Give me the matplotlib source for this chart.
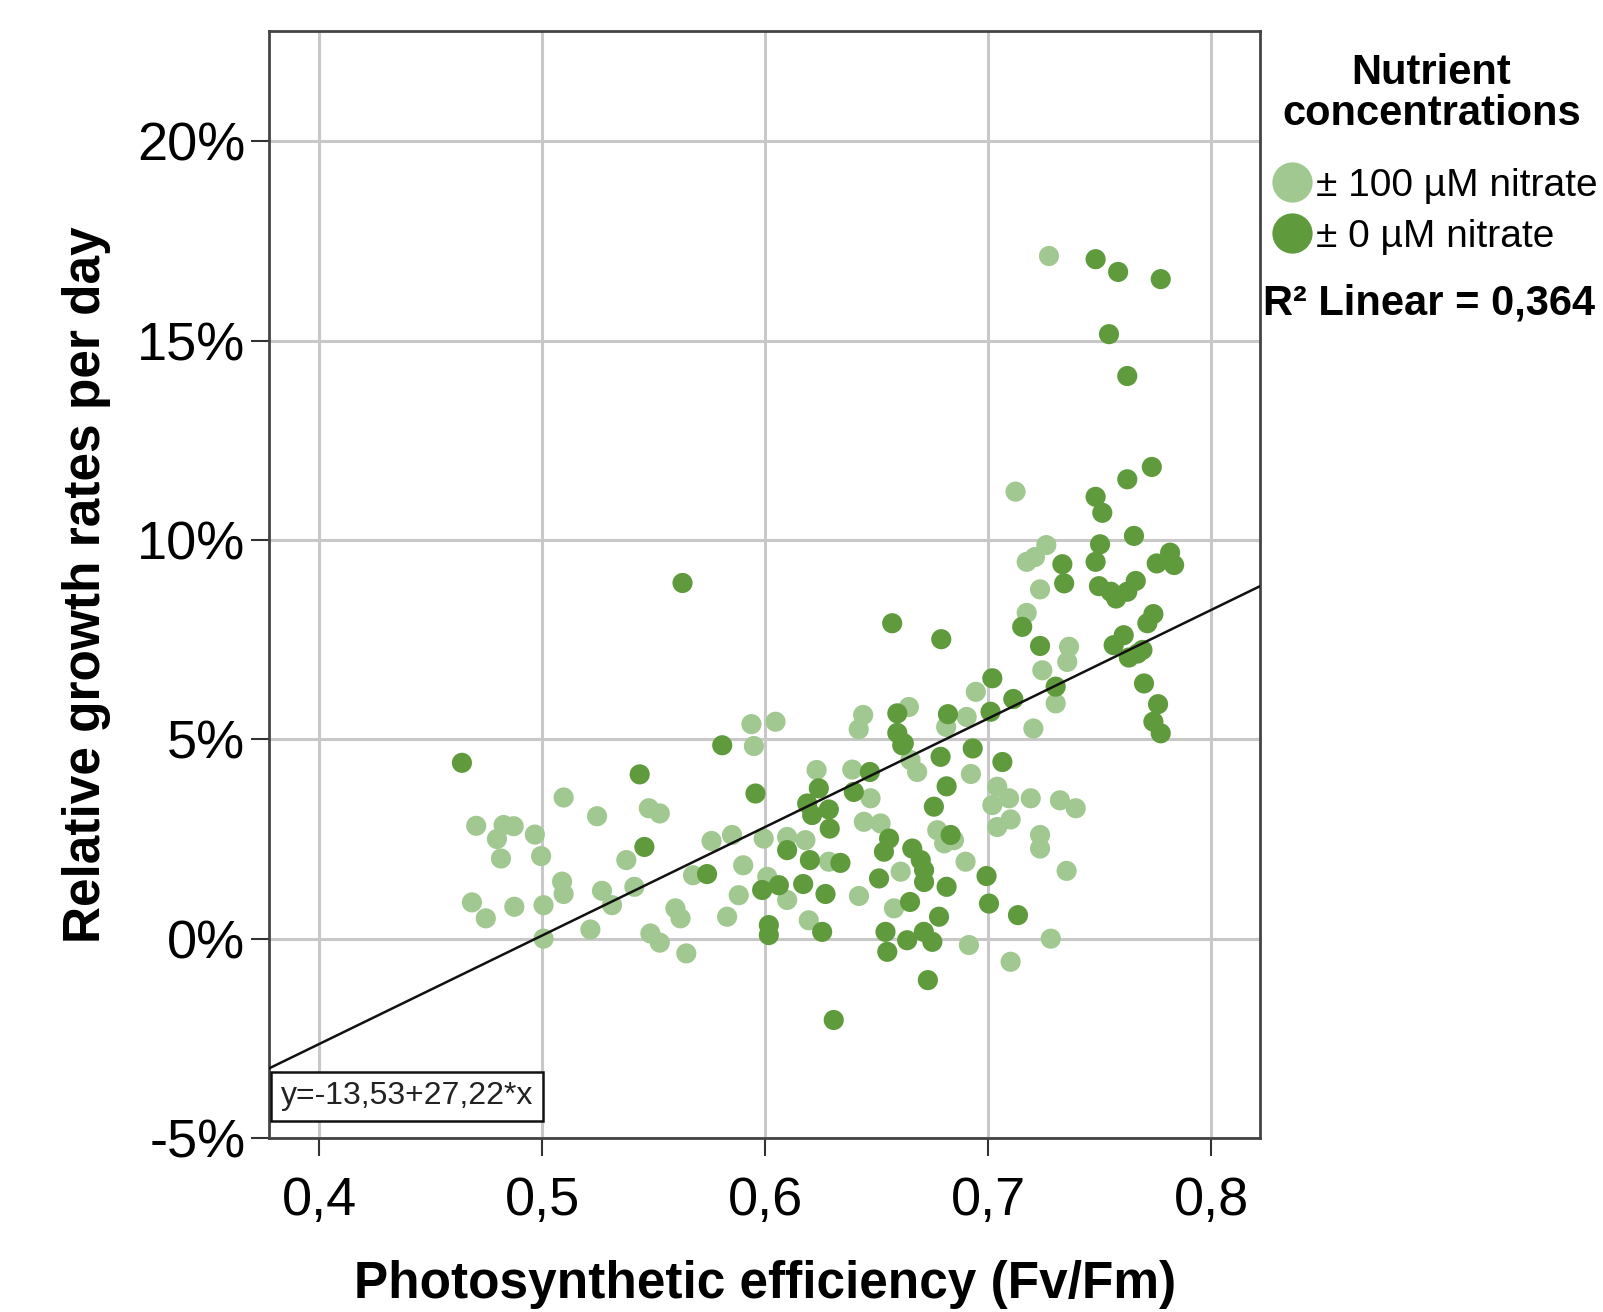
import matplotlib
matplotlib.use("Agg")
import matplotlib.pyplot as plt
from matplotlib.lines import Line2D

# photosynthetic efficiency (Fv/Fm) vs growth rate (% per day)
light_x = [0.7272, 0.7122, 0.7260, 0.7172, 0.7209, 0.7232, 0.7172, 0.7362, 0.7354, 0.6944,
           0.7242, 0.7302, 0.6903, 0.7202, 0.6922, 0.7040, 0.7093, 0.7018, 0.7100, 0.7040,
           0.7190, 0.7321, 0.7392, 0.7232, 0.7232, 0.7351, 0.6898, 0.7280, 0.6913, 0.7100,
           0.5949, 0.6230, 0.6390, 0.6472, 0.6442, 0.6517, 0.6651, 0.6681, 0.6771, 0.6802,
           0.6846, 0.6607, 0.6577, 0.6098, 0.6180, 0.5993, 0.5851, 0.6285, 0.5901, 0.6009,
           0.6098, 0.6420, 0.5881, 0.5829, 0.6195, 0.5096, 0.5246, 0.5478, 0.5527, 0.4704,
           0.4827, 0.4872, 0.4797, 0.4967, 0.4815, 0.4995, 0.5377, 0.5759, 0.5676, 0.5089,
           0.5096, 0.5268, 0.5313, 0.5413, 0.4685, 0.4747, 0.4875, 0.5006, 0.5006, 0.5216,
           0.5597, 0.5620, 0.5485, 0.5527, 0.5646, 0.5938, 0.6046, 0.6439, 0.6419, 0.6644,
           0.6811]
light_y = [17.12, 11.21, 9.87, 9.45, 9.57, 8.76, 8.17, 7.32, 6.94, 6.19,
           6.73, 5.90, 5.56, 5.27, 4.13, 3.81, 3.52, 3.35, 2.99, 2.80,
           3.52, 3.47, 3.27, 2.60, 2.26, 1.70, 1.93, 0.00, -0.16, -0.58,
           4.83, 4.23, 4.24, 3.52, 2.93, 2.89, 4.48, 4.18, 2.72, 2.39,
           2.47, 1.68, 0.76, 2.55, 2.47, 2.51, 2.60, 1.93, 1.84, 1.55,
           0.97, 1.07, 1.09, 0.55, 0.46, 3.54, 3.07, 3.27, 3.14, 2.83,
           2.85, 2.82, 2.50, 2.61, 2.01, 2.07, 1.97, 2.45, 1.59, 1.43,
           1.12, 1.20, 0.84, 1.30, 0.91, 0.51, 0.80, 0.84, 0.00, 0.23,
           0.76, 0.51, 0.13, -0.10, -0.37, 5.38, 5.44, 5.61, 5.25, 5.81,
           5.31]

dark_x = [0.7481, 0.7582, 0.7773, 0.7541, 0.7623, 0.7733, 0.7623, 0.7481, 0.7511, 0.7653,
          0.7501, 0.7332, 0.7481, 0.7815, 0.7755, 0.7833, 0.7340, 0.7496, 0.7549, 0.7573,
          0.7623, 0.7661, 0.7740, 0.7713, 0.7152, 0.6569, 0.7232, 0.7018, 0.7112, 0.7302,
          0.7010, 0.7562, 0.7607, 0.7669, 0.7691, 0.7630, 0.7698, 0.7761, 0.7740, 0.7773,
          0.6930, 0.7063, 0.6992, 0.7003, 0.7133, 0.5807, 0.6614, 0.6469, 0.6240, 0.5956,
          0.6188, 0.6285, 0.6210, 0.6397, 0.6289, 0.6555, 0.6532, 0.6786, 0.6813, 0.6756,
          0.6831, 0.6659, 0.6697, 0.6712, 0.6712, 0.6813, 0.6510, 0.6649, 0.6779, 0.6539,
          0.6547, 0.6636, 0.6711, 0.6749, 0.6729, 0.6307, 0.6098, 0.6200, 0.6337, 0.5986,
          0.6061, 0.6170, 0.6270, 0.6016, 0.6016, 0.6255, 0.4640, 0.5437, 0.5458, 0.5739,
          0.5629, 0.6789, 0.6592, 0.6592, 0.6621, 0.6819]
dark_y = [17.04, 16.72, 16.54, 15.16, 14.11, 11.83, 11.52, 11.08, 10.68, 10.10,
          9.89, 9.39, 9.45, 9.68, 9.41, 9.37, 8.91, 8.84, 8.70, 8.53,
          8.70, 8.97, 8.14, 7.91, 7.82, 7.91, 7.34, 6.53, 6.01, 6.32,
          5.69, 7.36, 7.61, 7.15, 7.24, 7.05, 6.40, 5.88, 5.44, 5.15,
          4.77, 4.43, 1.57, 0.88, 0.59, 4.85, 4.85, 4.18, 3.77, 3.64,
          3.39, 3.24, 3.10, 3.68, 2.76, 2.51, 2.18, 4.56, 3.82, 3.31,
          2.60, 2.26, 1.97, 1.72, 1.42, 1.30, 1.51, 0.92, 0.55, 0.17,
          -0.33, -0.04, 0.17, -0.08, -1.04, -2.04, 2.22, 1.97, 1.90, 1.22,
          1.34, 1.37, 1.12, 0.34, 0.09, 0.17, 4.41, 4.12, 2.30, 1.62,
          8.92, 7.51, 5.65, 5.16, 4.90, 5.63]

intercept, slope = -13.53, 27.22
r2_text = "R² Linear = 0,364"
eq_text = "y=-13,53+27,22*x"
legend_title = "Nutrient\nconcentrations"
legend_labels = ["± 100 µM nitrate", "± 0 µM nitrate"]
xticks = [0.4, 0.5, 0.6, 0.7, 0.8]
xtick_labels = ["0,4", "0,5", "0,6", "0,7", "0,8"]
yticks = [-5, 0, 5, 10, 15, 20]
ytick_labels = ["-5%", "0%", "5%", "10%", "15%", "20%"]

LIGHT = "#a0c890"
DARK = "#5f9a3c"
FONT = "Liberation Sans"

plt.rcParams["font.family"] = [FONT, "DejaVu Sans"]

fig = plt.figure(figsize=(16.03, 13.12), dpi=100)
ax = fig.add_axes([0.1678, 0.1326, 0.6185, 0.844])

xmin, xmax = 0.3775, 0.822
ax.set_xlim(xmin, xmax)
ax.set_ylim(-5, 22.77)

ax.grid(True, color="#c8c8c8", lw=2.2, zorder=0)
ax.set_axisbelow(True)

ax.scatter(light_x, light_y, s=210, color=LIGHT, edgecolors="none", zorder=3)
ax.scatter(dark_x, dark_y, s=210, color=DARK, edgecolors="none", zorder=3)

ax.plot([xmin, xmax], [intercept + slope * xmin, intercept + slope * xmax],
        color="#111111", lw=1.8, zorder=4)

ax.set_xticks(xticks)
ax.set_xticklabels(xtick_labels)
ax.set_yticks(yticks)
ax.set_yticklabels(ytick_labels)
ax.tick_params(axis="both", labelsize=39, length=13, width=1.5, color="#333333")
ax.tick_params(axis="x", pad=14)
ax.tick_params(axis="y", pad=4)
for sp in ax.spines.values():
    sp.set_color("#444444")
    sp.set_linewidth(2)

ax.set_xlabel("Photosynthetic efficiency (Fv/Fm)", fontsize=37, fontweight="bold", labelpad=25)
ax.set_ylabel("Relative growth rates per day", fontsize=37, fontweight="bold", labelpad=19)

ax.text(0.012, 0.024, eq_text, transform=ax.transAxes, fontsize=23, color="#222222",
        ha="left", va="bottom", zorder=5,
        bbox=dict(boxstyle="square,pad=0.3", fc="white", ec="#111111", lw=1.8))

# legend on the right
fig.text(0.893, 0.9287, legend_title, fontsize=30, fontweight="bold",
         ha="center", va="center", multialignment="center", linespacing=1.05)
handles = [Line2D([], [], marker="o", ls="none", ms=29, color=c, mec="none")
           for c in (LIGHT, DARK)]
fig.legend(handles, legend_labels, loc="upper left", bbox_to_anchor=(0.792, 0.872),
           frameon=False, fontsize=28, handletextpad=0.05, labelspacing=0.38,
           borderpad=0, borderaxespad=0, handlelength=1.15)

fig.text(0.7876, 0.7686, r2_text, fontsize=30, fontweight="bold", ha="left", va="center")

fig.savefig("out.png", dpi=100)
